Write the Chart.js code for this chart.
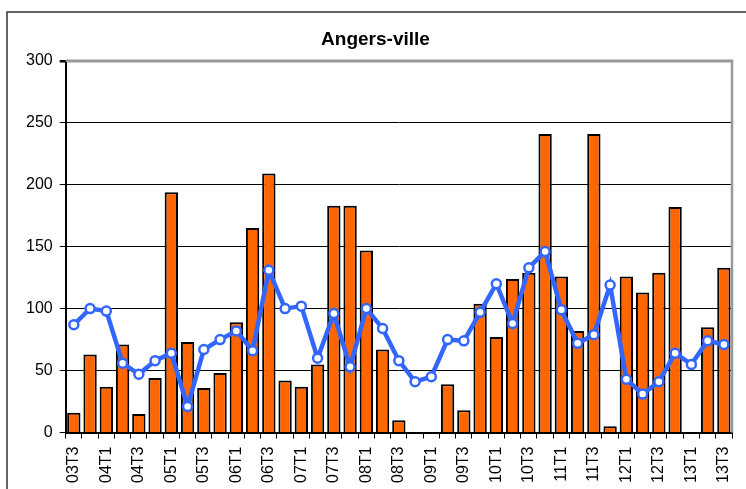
<!DOCTYPE html>
<html>
<head>
<meta charset="utf-8">
<title>Angers-ville</title>
<script src="https://cdn.jsdelivr.net/npm/chart.js@4/dist/chart.umd.min.js"></script>
<style>
  html, body { margin:0; padding:0; background:#fff; }
  #chart { display:block; }
</style>
</head>
<body>
<canvas id="chart" width="746" height="489"></canvas>
<script>
// Angers-ville — quarterly values 03T3..13T3

const QUARTERS = [
  '03T3','03T4','04T1','04T2','04T3','04T4','05T1','05T2','05T3','05T4',
  '06T1','06T2','06T3','06T4','07T1','07T2','07T3','07T4','08T1','08T2',
  '08T3','08T4','09T1','09T2','09T3','09T4','10T1','10T2','10T3','10T4',
  '11T1','11T2','11T3','11T4','12T1','12T2','12T3','12T4','13T1','13T2','13T3'
];

// bars (orange)
const BAR_VALUES = [
  16, 63, 37, 71, 15, 44, 194, 73, 36, 48,
  89, 165, 209, 42, 37, 55, 183, 183, 147, 67,
  10, 0, 0, 39, 18, 104, 77, 124, 129, 241,
  126, 82, 241, 5, 126, 113, 129, 182, 0, 85, 133
];

// line (blue)
const LINE_VALUES = [
  87, 100, 98, 56, 47, 58, 64, 21, 67, 75,
  82, 66, 131, 100, 102, 60, 96, 53, 100, 84,
  58, 41, 45, 75, 74, 97, 120, 88, 133, 146,
  99, 72, 79, 119, 43, 31, 41, 64, 55, 74, 71
];

const Y_TICKS = [0, 50, 100, 150, 200, 250, 300];

const FONT = 'Arial, "Liberation Sans", sans-serif';
const BLUE = 'rgb(51,102,255)';

// outer frame + grey plot border (top/right)
const framePlugin = {
  id: 'frame',
  beforeDraw(chart) {
    const ctx = chart.ctx;
    ctx.save();
    ctx.strokeStyle = '#333';
    ctx.lineWidth = 1.5;
    ctx.strokeRect(7, 12, 900, 700);
    ctx.restore();
  },
  afterDatasetsDraw(chart) {
    const { ctx, chartArea: a } = chart;
    ctx.save();
    ctx.strokeStyle = '#999';
    ctx.lineWidth = 2.5;
    ctx.beginPath();
    ctx.moveTo(a.left, a.top);
    ctx.lineTo(a.right, a.top);
    ctx.lineTo(a.right, a.bottom);
    ctx.stroke();
    ctx.restore();
  }
};

new Chart(document.getElementById('chart'), {
  data: {
    labels: QUARTERS,
    datasets: [
      {
        type: 'line', data: LINE_VALUES, order: 1,
        borderColor: BLUE, borderWidth: 4.5, tension: 0,
        pointRadius: 4.5, pointBorderWidth: 2.5,
        pointBackgroundColor: '#fff', pointBorderColor: BLUE
      },
      {
        type: 'bar', data: BAR_VALUES, order: 2,
        backgroundColor: '#FF6600', borderColor: '#000', borderWidth: 2,
        barPercentage: 0.82, categoryPercentage: 1
      }
    ]
  },
  options: {
    responsive: false, animation: false,
    layout: { padding: { left: 19, right: 14, top: 20, bottom: -2 } },
    plugins: {
      legend: { display: false },
      tooltip: { enabled: false },
      title: {
        display: true, text: 'Angers-ville', color: '#000',
        font: { family: FONT, size: 19, weight: 'bold' },
        padding: { top: 8, bottom: 10 }
      }
    },
    scales: {
      x: {
        offset: true,
        // labels are vertical, no side room needed
        afterFit: s => { s.paddingLeft = 0; s.paddingRight = 0; },
        grid: { offset: true, drawOnChartArea: false, drawTicks: true, tickLength: 6, color: '#000' },
        border: { color: '#000', width: 2 },
        ticks: {
          autoSkip: false, minRotation: 90, maxRotation: 90, padding: 8,
          color: '#000', font: { family: FONT, size: 16 },
          callback: (v, i) => i % 2 === 0 ? QUARTERS[i] : ''
        }
      },
      y: {
        min: 0, max: 300,
        afterBuildTicks: axis => { axis.ticks = Y_TICKS.map(v => ({ value: v })); },
        grid: {
          tickLength: 6, tickColor: '#000',
          color: c => c.tick.value === 300 ? '#999' : '#000',
          lineWidth: c => c.tick.value === 300 ? 2.5 : 1
        },
        border: { color: '#000', width: 2 },
        ticks: { padding: 7, color: '#000', font: { family: FONT, size: 16 } }
      }
    }
  },
  plugins: [framePlugin]
});
</script>
</body>
</html>
